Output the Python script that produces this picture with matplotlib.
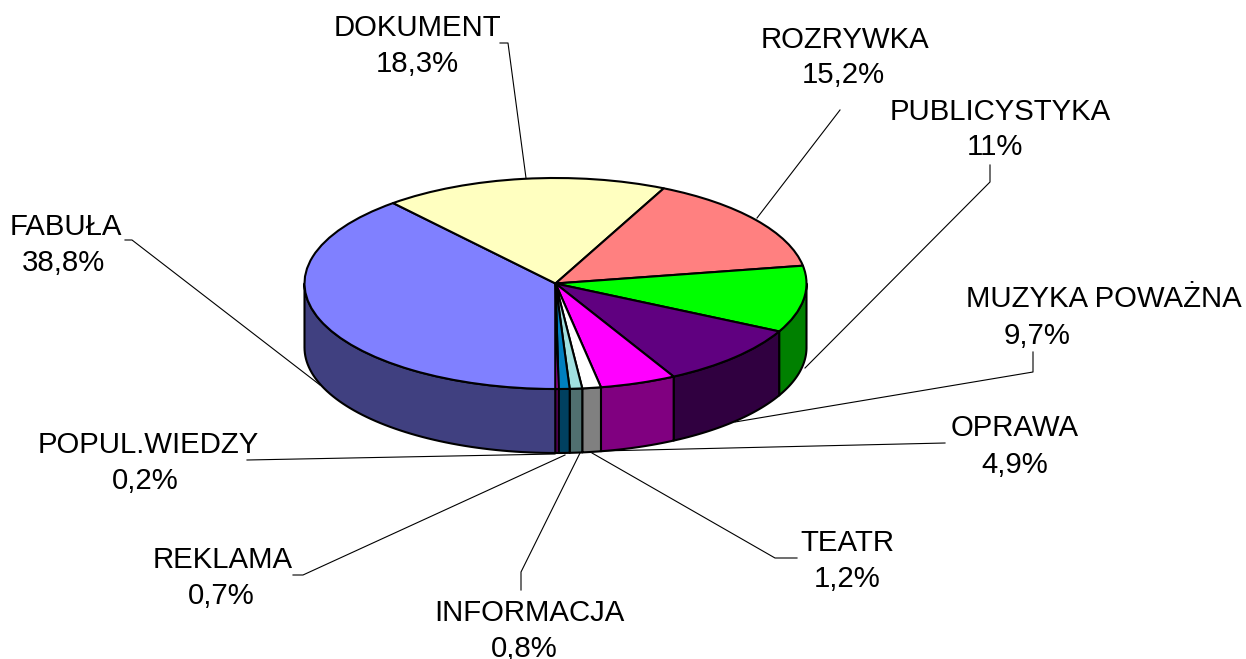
import numpy as np
import matplotlib
matplotlib.use('Agg')
import matplotlib.pyplot as plt
from matplotlib.patches import Polygon
from matplotlib.transforms import Affine2D

W, H = 1246, 659

# Data
categories = ['FABUŁA', 'DOKUMENT', 'ROZRYWKA', 'PUBLICYSTYKA', 'MUZYKA POWAŻNA',
              'OPRAWA', 'TEATR', 'INFORMACJA', 'REKLAMA', 'POPUL.WIEDZY']
# slice sizes as drawn; the PUBLICYSTYKA slice is about 10.2 although it is labelled 11%
shares = [38.8, 18.3, 15.2, 10.2, 9.7, 4.9, 1.2, 0.8, 0.7, 0.2]
value_labels = ['38,8%', '18,3%', '15,2%', '11%', '9,7%', '4,9%', '1,2%', '0,8%', '0,7%', '0,2%']
top_colors = ['#8080FF', '#FFFFC0', '#FF8080', '#00FF00', '#600080',
              '#FF00FF', '#FFFFFF', '#A0E0E0', '#0080C0', '#FF00FF']
side_colors = ['#404080', '#808060', '#804040', '#008000', '#300040',
               '#800080', '#808080', '#507070', '#004060', '#800080']

# Label positions in pixels: name centre, value centre
name_pos = [(66, 227), (417, 28), (845, 40), (1000, 112), (1104, 299),
            (1015, 428), (847, 543), (529, 613), (223, 560), (148, 445)]
value_pos = [(63, 263), (417, 64), (843, 75), (995, 147), (1037, 336),
             (1015, 465), (847, 579), (524, 649), (221, 596), (145, 481)]

# Leader lines in pixels
leaders = [
    [(125, 240), (132, 240), (320, 385)],
    [(500, 43), (508, 43), (526, 178)],
    [(840, 110), (757, 218)],
    [(990, 165), (990, 182), (805, 368)],
    [(1033, 352), (1033, 372), (735, 422)],
    [(945, 443), (600, 451)],
    [(797, 558), (775, 558), (592, 453)],
    [(521, 590), (521, 572), (580, 453)],
    [(293, 575), (303, 575), (565, 455)],
    [(247, 460), (555, 454)],
]

# Ellipse geometry in pixels
cx, cy = 555.5, 283.5
rx, ry = 251, 105.5
depth_px = 64
depth = depth_px / ry

plt.rcParams['font.family'] = ['Liberation Sans', 'DejaVu Sans']

fig = plt.figure(figsize=(W / 100, H / 100), dpi=100)
ax = fig.add_axes([0, 0, 1, 1])

# Top face
ax.pie(shares, colors=top_colors, startangle=270, counterclock=False, radius=1,
       wedgeprops={'edgecolor': 'black', 'linewidth': 1.5, 'joinstyle': 'round', 'zorder': 3})
ax.set_aspect('auto')
ax.set_xlim(-cx / rx, (W - cx) / rx)
ax.set_ylim(-(H - cy) / ry, cy / ry)
ax.axis('off')

# Side wall, only the part of each slice facing the viewer
edges = 270 - np.cumsum([0] + shares) / sum(shares) * 360
for i in range(len(shares)):
    hi, lo = edges[i], edges[i + 1]
    for a, b in [(180, 360), (-180, 0)]:
        t1, t2 = max(lo, a), min(hi, b)
        if t2 <= t1:
            continue
        th = np.radians(np.linspace(t1, t2, 60))
        x = np.cos(th)
        y = np.sin(th)
        pts = np.column_stack([np.r_[x, x[::-1]], np.r_[y, y[::-1] - depth]])
        ax.add_patch(Polygon(pts, closed=True, facecolor=side_colors[i], edgecolor='black',
                             linewidth=1.5, joinstyle='round', zorder=2))

# Pixel coordinates for leaders and labels
px = Affine2D().scale(1, -1).translate(0, H) + Affine2D().scale(1 / W, 1 / H) + fig.transFigure

for pts in leaders:
    xs, ys = zip(*pts)
    ax.plot(xs, ys, color='black', linewidth=0.8, transform=px, zorder=1, clip_on=False)

for name, val, np_, vp in zip(categories, value_labels, name_pos, value_pos):
    ax.text(np_[0], np_[1], name, transform=px, ha='center', va='center', fontsize=21.2, color='black')
    ax.text(vp[0], vp[1], val, transform=px, ha='center', va='center', fontsize=21.2, color='black')

fig.savefig('out.png', dpi=100)
